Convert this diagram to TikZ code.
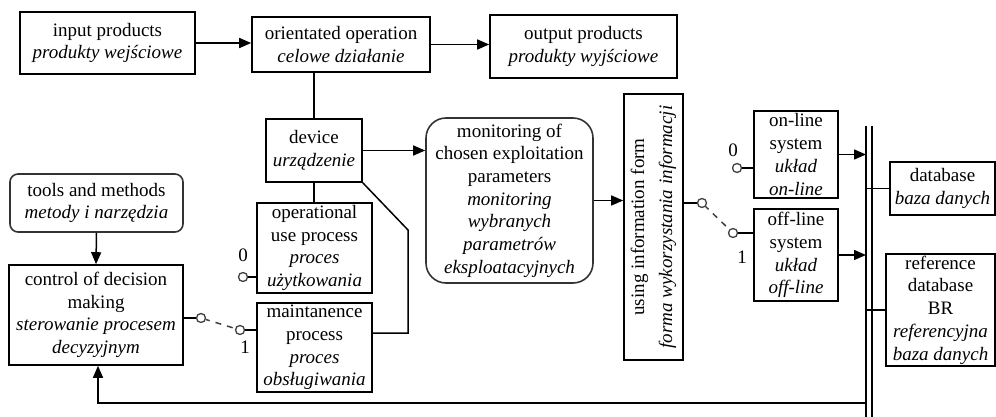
\documentclass[tikz,border=0pt]{standalone}
\usepackage{fontspec}
\setmainfont{Liberation Serif}
\usetikzlibrary{arrows.meta}
\begin{document}
\begin{tikzpicture}[x=1pt,y=-1pt,
  txt/.style={font=\fontsize{19}{22.7}\selectfont},
  box/.style={draw, line width=1.6pt, inner sep=0pt, align=center, txt},
  rbox/.style={box, rounded corners=#1, draw=black!80},
  wire/.style={line width=1.5pt},
  arr/.style={wire, -{Triangle[length=12pt,width=10pt]}},
  swdash/.style={wire, draw=black!75, dash pattern=on 6pt off 6pt, dash phase=2pt},
  pin/.style={circle, draw=black!75, line width=1.3pt, fill=white, inner sep=0pt, minimum size=9pt},
  lbl/.style={txt, inner sep=0pt}
]
\useasboundingbox (0,0) rectangle (996,417);

% upper process chain
\node[box, minimum width=175pt, minimum height=62pt] (in) at (107.5,43)
  {input products\\\textit{produkty wejściowe}};
\node[box, minimum width=178pt, minimum height=55pt] (op) at (341,44.5)
  {orientated operation\\\textit{celowe działanie}};
\node[box, minimum width=187pt, minimum height=63pt] (out) at (583.5,46.5)
  {output products\\\textit{produkty wyjściowe}};

% device and its processes
\node[box, minimum width=96pt, minimum height=63pt] (dev) at (314,150.5)
  {device\\\textit{urządzenie}};
\node[box, minimum width=115pt, minimum height=90pt] (use) at (314.5,248)
  {operational\\use process\\\textit{proces}\\\textit{użytkowania}};
\node[box, minimum width=115pt, minimum height=89pt] (mnt) at (314.5,347.5)
  {maintanence\\process\\\textit{proces}\\\textit{obsługiwania}};

% monitoring and information use
\node[rbox=20pt, minimum width=167pt, minimum height=165pt] (mon) at (509.5,200.5)
  {monitoring of\\chosen exploitation\\parameters\\\textit{monitoring}\\\textit{wybranych}\\\textit{parametrów}\\\textit{eksploatacyjnych}};
\node[box, minimum width=59pt, minimum height=266pt] (form) at (653.5,227) {};
\node[txt, rotate=90, align=center, inner sep=0pt, font=\fontsize{19}{28}\selectfont] (formtxt) at (form.center)
  {using information form\\\textit{forma wykorzystania informacji}};

% acquisition systems and databases
\node[box, minimum width=84pt, minimum height=87pt] (onl) at (796,154.5)
  {on-line\\system\\\textit{układ}\\\textit{on-line}};
\node[box, minimum width=84pt, minimum height=92pt] (offl) at (796,255)
  {off-line\\system\\\textit{układ}\\\textit{off-line}};
\node[box, minimum width=105pt, minimum height=53pt] (db) at (942.5,188.5)
  {database\\\textit{baza danych}};
\node[box, minimum width=109pt, minimum height=112pt] (ref) at (940.5,310)
  {reference\\database\\BR\\\textit{referencyjna}\\\textit{baza danych}};

% decision side
\node[rbox=8pt, minimum width=173pt, minimum height=58pt] (tools) at (96.5,203)
  {tools and methods\\\textit{metody i narzędzia}};
\node[box, minimum width=174pt, minimum height=100pt] (ctrl) at (96,315)
  {control of decision\\making\\\textit{sterowanie procesem}\\\textit{decyzyjnym}};

% data bus (double rail)
\coordinate (busL) at (866,126);
\coordinate (busLb) at (866,417);
\coordinate (busR) at (872,126);
\coordinate (busRb) at (872,417);
\draw[wire] (busL) -- (busLb);
\draw[wire] (busR) -- (busRb);

% main flow
\draw[arr] (in.east) -- (in.east -| op.west);
\draw[arr] (op.east) -- (op.east -| out.west);
\draw[wire] (dev.north) -- (dev.north |- op.south);
\draw[wire] (dev.south) -- (dev.south |- use.north);
\draw[arr] (dev.east) -- (dev.east -| mon.west);
\coordinate (bendA) at (408,230);
\coordinate (bendB) at (408,333);
\draw[wire] (dev.south east) -- (bendA) -- (bendB) -- (bendB -| mnt.east);
\draw[arr] (mon.east) -- (mon.east -| form.west);
\draw[arr] (tools.south) -- (ctrl.north);

% bus connections
\draw[arr] (onl.east) -- (onl.east -| busL);
\draw[arr] (offl.east) -- (offl.east -| busL);
\draw[wire] (db.west -| busL) -- (db.west);
\draw[wire] (ref.west -| busL) -- (ref.west);
\coordinate (fb) at (866,403);
\draw[arr] (fb) -| ([xshift=2pt]ctrl.south);

% switch between use and maintenance
\node[pin] (sA) at (201,318) {};
\node[pin] (sB) at (240,330) {};
\node[pin] (sU) at (243,277) {};
\draw[wire] (ctrl.east |- sA) -- (sA);
\draw[swdash] (sA) -- (sB);
\draw[wire] (sB) -- (sB -| mnt.west);
\draw[wire] (sU) -- (sU -| use.west);
\node[lbl] (lU) at (243,255) {0};
\node[lbl] (lB) at (245,347) {1};

% switch between on-line and off-line
\node[pin] (sC) at (702,203) {};
\node[pin] (sD) at (733,233) {};
\node[pin] (sN) at (737,168) {};
\draw[wire] (form.east |- sC) -- (sC);
\draw[swdash] (sC) -- (sD);
\draw[wire] (sD) -- (sD -| offl.west);
\draw[wire] (sN) -- (sN -| onl.west);
\node[lbl] (lN) at (733,150) {0};
\node[lbl] (lD) at (742,257) {1};
\end{tikzpicture}
\end{document}
